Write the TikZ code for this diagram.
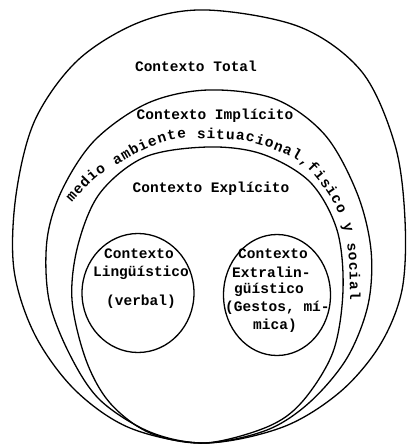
\documentclass[tikz,border=0pt]{standalone}
\usepackage{fontspec}
\newfontfamily\typed{Liberation Mono}
\usetikzlibrary{shapes.geometric,decorations.text}
\begin{document}
\begin{tikzpicture}[x=1pt,y=-1pt,
  lbl/.style={font=\typed\bfseries\fontsize{14.5}{18.3}\selectfont, inner sep=0pt, align=center},
  lline/.style={lbl, anchor=west},
  band/.style={draw=black, line width=1.3pt},
  ring/.style={draw=black, line width=1.3pt, ellipse, inner sep=0pt}]
\useasboundingbox (0,0) rectangle (409,444);
% outer: Contexto Total
\draw[band] plot[smooth cycle, tension=0.55] coordinates {
 (207,10) (300,27) (362,72) (395,145) (405,220) (402,290)
 (380,345) (340,392) (283,427) (205,443)
 (130,428) (75,390) (35,335) (14,270) (16,195)
 (35,120) (78,60) (140,22)};
% middle: Contexto Implicito
\draw[band] plot[smooth cycle, tension=0.55] coordinates {
 (208,90) (275,99) (325,135) (357,193) (371,250) (368,305)
 (347,358) (310,402) (267,430) (205,443) (150,432)
 (100,400) (70,355) (49,300) (47,240) (62,190) (95,140)
 (148,103)};
% inner: Contexto Explicito
\draw[band] plot[smooth cycle, tension=0.55] coordinates {
 (208,147) (262,154) (310,182) (337,230) (343,290)
 (333,352) (302,402) (267,427) (205,443) (150,433)
 (110,403) (86,360) (72,300) (78,245) (100,193)
 (145,157)};
% small circles
\node[ring, minimum width=112pt, minimum height=119pt] (cling) at (138,293) {};
\node[ring, minimum width=107pt, minimum height=121pt] (cextra) at (277,295) {};
% labels
\node[lbl] (total) at (196,66) {Contexto Total};
\node[lbl] (impl) at (215,116) {Contexto Implícito};
\node[lbl] (expl) at (211,189) {Contexto Explícito};
\node[lbl] (ling1) at (139,254) {Contexto};
\node[lbl] (ling2) at (141,273) {Lingüístico};
\node[lbl] (ling3) at (141,302) {(verbal)};
\node[lline] (extra1) at (238,254) {Contexto};
\node[lline] (extra2) at (232,272) {Extralin-};
\node[lline] (extra3) at (234,290) {güístico};
\node[lline] (extra4) at (225,308) {(Gestos, mí-};
\node[lline] (extra5) at (253,326) {mica)};
% curved label of the middle band
\path[decorate, decoration={text along path, text align=fit to path,
  text={|\typed\bfseries\fontsize{14.5}{18}\selectfont|medio ambiente situacional,fisico y social}}]
  plot[smooth, tension=0.6] coordinates {
 (72,203) (96,178) (122,162) (150,147) (178,139) (208,139) (250,142)
 (298,161) (326,191) (343,225) (349,260) (350,300)};
\end{tikzpicture}
\end{document}
